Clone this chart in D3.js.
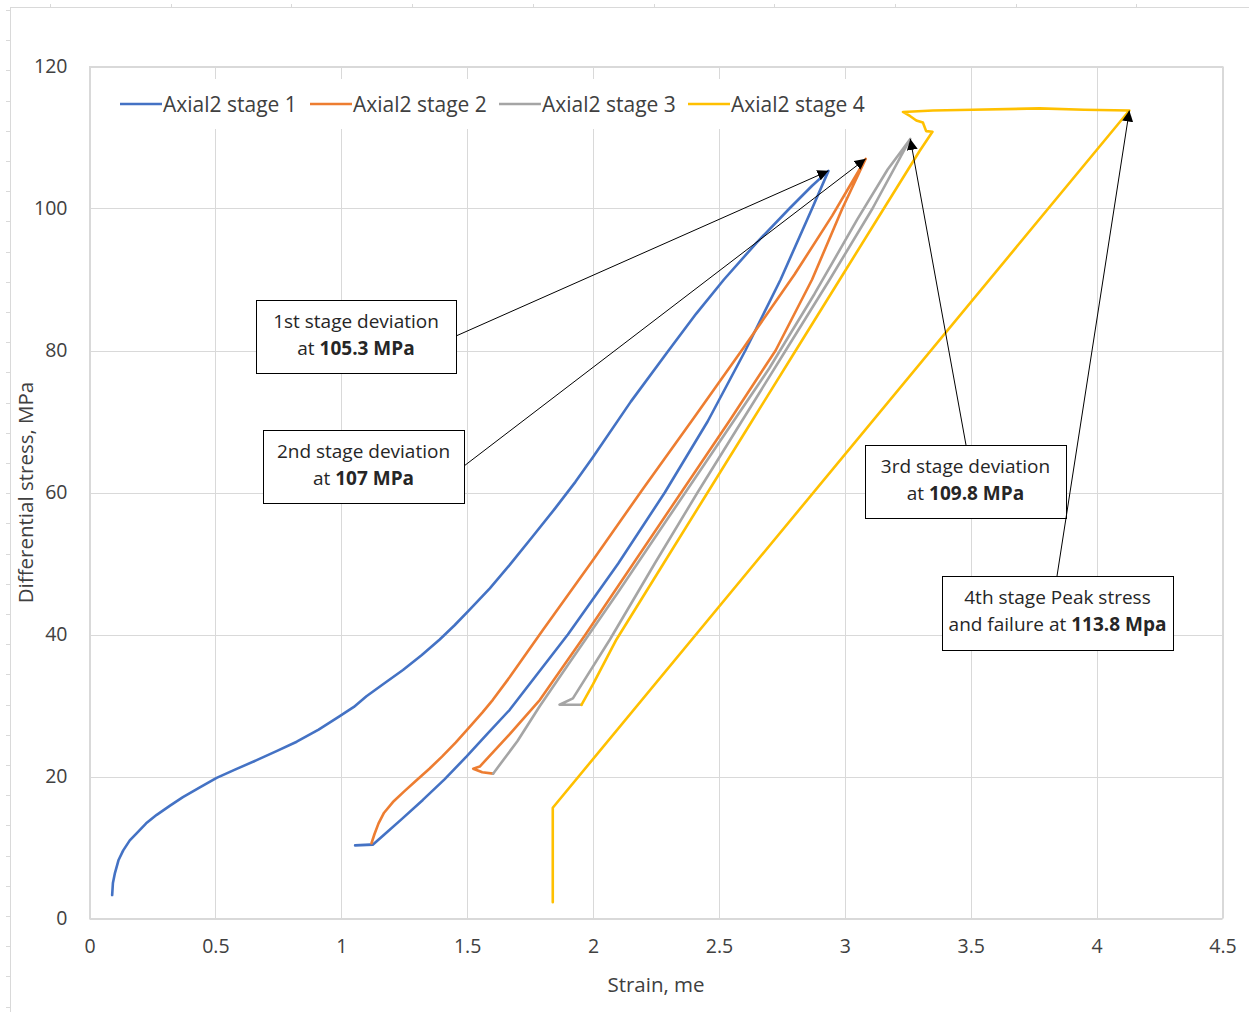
<!DOCTYPE html>
<html>
<head>
<meta charset="utf-8">
<script src="https://cdn.jsdelivr.net/npm/d3@7"></script>
<style>
  html, body { margin: 0; padding: 0; background: #fff; }
  svg { display: block; font-family: "Open Sans", Lato, sans-serif; }
</style>
</head>
<body>
<svg id="chart" width="1249" height="1012"></svg>
<script>
// ---- series: strain (me) and differential stress (MPa), in recorded order ----
const stage1Strain = [0.090,0.093,0.101,0.115,0.134,0.160,0.187,0.225,0.267,0.320,0.371,0.440,0.505,0.580,0.664,0.745,0.823,0.910,0.994,1.050,1.100,1.170,1.245,1.320,1.391,1.450,1.510,1.590,1.669,1.760,1.850,1.930,2.000,2.150,2.300,2.410,2.520,2.650,2.780,2.870,2.935,
  2.870,2.745,2.605,2.455,2.285,2.100,1.900,1.669,1.580,1.497,1.410,1.324,1.240,1.170,1.125,1.055,1.115];
const stage1Stress = [3.3,5.0,6.4,8.2,9.6,11.0,12.0,13.4,14.6,15.9,17.1,18.5,19.8,21.0,22.3,23.6,24.9,26.6,28.5,29.8,31.3,33.1,35.0,37.1,39.3,41.3,43.5,46.5,49.8,53.8,57.8,61.5,65.0,72.8,80.0,85.2,90.0,95.2,100.0,103.2,105.3,
  100.0,90.0,80.0,70.0,60.0,50.0,40.0,29.4,26.0,22.8,19.6,16.7,14.0,11.8,10.4,10.3,10.4];

const stage2Strain = [1.120,1.132,1.148,1.170,1.205,1.250,1.300,1.350,1.400,1.455,1.510,1.560,1.602,1.669,1.800,2.000,2.200,2.400,2.600,2.800,2.950,3.030,3.083,
  2.990,2.870,2.725,2.540,2.350,2.160,1.970,1.789,1.670,1.550,1.524,1.560,1.603];
const stage2Stress = [10.6,11.9,13.4,14.9,16.4,17.9,19.5,21.1,22.8,24.8,27.0,29.0,30.8,34.0,40.6,50.5,60.6,70.5,80.5,90.7,99.0,103.8,107.0,
  100.0,90.0,80.0,70.0,60.0,50.0,40.0,30.8,26.0,21.4,21.1,20.6,20.4];

const stage3Strain = [1.603,1.700,1.788,1.900,2.100,2.300,2.500,2.700,2.880,3.050,3.170,3.260,
  3.110,2.940,2.765,2.590,2.415,2.245,2.067,1.920,1.867,1.954];
const stage3Stress = [20.4,25.0,29.9,35.7,46.0,56.5,67.0,77.5,88.0,98.5,105.5,109.8,
  100.0,90.0,80.0,70.0,60.0,50.0,39.3,31.0,30.1,30.1];

const stage4Strain = [1.954,2.000,2.093,2.280,2.455,2.630,2.805,2.980,3.155,3.297,3.348,3.323,3.310,3.284,3.260,3.231,3.350,3.507,3.773,3.950,4.130,
  1.840,1.840];
const stage4Stress = [30.1,33.0,39.3,50.0,60.0,70.0,80.0,90.0,100.0,108.1,110.8,110.9,112.1,112.4,113.0,113.6,113.8,113.9,114.1,113.9,113.8,
  15.6,2.3];

const seriesNames = ["Axial2 stage 1", "Axial2 stage 2", "Axial2 stage 3", "Axial2 stage 4"];
const seriesColors = ["#4472C4", "#ED7D31", "#A5A5A5", "#FFC000"];

// ---- axis ticks ----
const xTicks = [0, 0.5, 1, 1.5, 2, 2.5, 3, 3.5, 4, 4.5];
const yTicks = [0, 20, 40, 60, 80, 100, 120];

// ---- callouts: the point each arrow marks and its text ----
const calloutStrain = [2.935, 3.083, 3.260, 4.130];
const calloutStress = [105.3, 107, 109.8, 113.8];
const calloutLead = ["1st stage deviation", "2nd stage deviation", "3rd stage deviation", "4th stage Peak stress"];
const calloutPrefix = ["at ", "at ", "at ", "and failure at "];
const calloutUnit = ["MPa", "MPa", "MPa", "Mpa"];

const svg = d3.select("#chart");

const x = d3.scaleLinear().domain([0, 4.5]).range([89.5, 1222.5]);
const y = d3.scaleLinear().domain([0, 120]).range([918.5, 66.5]);

const gridColor = "#d9d9d9";
const textColor = "#404040";
const font = "'Open Sans', Lato, sans-serif";

// sheet frame with its ruler marks
const frame = svg.append("g");
frame.append("line").attr("x1", 10.5).attr("x2", 10.5).attr("y1", 7).attr("y2", 1012).attr("stroke", gridColor);
frame.append("line").attr("x1", 10).attr("x2", 1249).attr("y1", 7.5).attr("y2", 7.5).attr("stroke", gridColor);
d3.range(10, 1012, 30.2).forEach(v => {
  frame.append("line").attr("x1", 6).attr("x2", 10).attr("y1", Math.round(v) + 0.5).attr("y2", Math.round(v) + 0.5).attr("stroke", gridColor);
});
d3.range(50, 1249, 120.7).forEach(v => {
  frame.append("line").attr("x1", Math.round(v) + 0.5).attr("x2", Math.round(v) + 0.5).attr("y1", 4).attr("y2", 7).attr("stroke", gridColor);
});

// gridlines
const grid = svg.append("g");
grid.selectAll(".gx").data(xTicks).join("line")
  .attr("x1", d => Math.round(x(d)) + 0.5).attr("x2", d => Math.round(x(d)) + 0.5)
  .attr("y1", y(120)).attr("y2", y(0))
  .attr("stroke", gridColor).attr("stroke-width", 1);
grid.selectAll(".gy").data(yTicks).join("line")
  .attr("x1", x(0)).attr("x2", x(4.5))
  .attr("y1", d => Math.round(y(d)) + 0.5).attr("y2", d => Math.round(y(d)) + 0.5)
  .attr("stroke", gridColor).attr("stroke-width", 1);

// axes (labels only, Excel style)
const xAxis = svg.append("g").attr("transform", `translate(0,${y(0)})`)
  .call(d3.axisBottom(x).tickValues(xTicks).tickSize(0).tickPadding(21).tickFormat(d3.format("")));
const yAxis = svg.append("g").attr("transform", `translate(${x(0)},0)`)
  .call(d3.axisLeft(y).tickValues(yTicks).tickSize(0).tickPadding(22));
[xAxis, yAxis].forEach(a => {
  a.select(".domain").remove();
  a.selectAll("text").attr("fill", textColor).style("font-size", "19.5px").style("font-family", font);
});

// axis titles
svg.append("text").attr("x", (x(0) + x(4.5)) / 2).attr("y", 992)
  .attr("text-anchor", "middle").attr("fill", textColor).style("font-size", "20.5px")
  .text("Strain, me");
svg.append("text").attr("transform", `translate(33,${(y(0) + y(120)) / 2}) rotate(-90)`)
  .attr("text-anchor", "middle").attr("fill", textColor).style("font-size", "20.5px")
  .text("Differential stress, MPa");

// series lines
const allStrain = [stage1Strain, stage2Strain, stage3Strain, stage4Strain];
const allStress = [stage1Stress, stage2Stress, stage3Stress, stage4Stress];
const line = d3.line().x(d => x(d[0])).y(d => y(d[1]));
const plot = svg.append("g");
allStrain.forEach((s, i) => {
  const pts = s.map((v, j) => [v, allStress[i][j]]);
  plot.append("path").attr("d", line(pts))
    .attr("fill", "none").attr("stroke", seriesColors[i])
    .attr("stroke-width", 2.6).attr("stroke-linejoin", "round").attr("stroke-linecap", "round");
});

// plot area border
svg.append("rect").attr("x", x(0)).attr("y", y(120)).attr("width", x(4.5) - x(0)).attr("height", y(0) - y(120))
  .attr("fill", "none").attr("stroke", gridColor);

// legend
const legend = svg.append("g");
legend.append("rect").attr("x", 112).attr("y", 79).attr("width", 765).attr("height", 50).attr("fill", "#fff");
const legendX = [120, 310, 499, 688];
seriesNames.forEach((n, i) => {
  legend.append("line").attr("x1", legendX[i]).attr("x2", legendX[i] + 42).attr("y1", 104).attr("y2", 104)
    .attr("stroke", seriesColors[i]).attr("stroke-width", 2.6);
  legend.append("text").attr("x", legendX[i] + 43).attr("y", 111.5).attr("fill", textColor)
    .style("font-size", "21px").text(n);
});

// callouts
svg.append("defs").append("marker").attr("id", "arrow")
  .attr("viewBox", "0 0 10 10").attr("refX", 10).attr("refY", 5)
  .attr("markerWidth", 11).attr("markerHeight", 11).attr("markerUnits", "userSpaceOnUse")
  .attr("orient", "auto")
  .append("path").attr("d", "M0,0 L10,5 L0,10 Z").attr("fill", "#000");

const boxes = [
  { x: 256, y: 300, w: 200, h: 73, ax: 456, ay: 336 },
  { x: 263, y: 430, w: 201, h: 73, ax: 464, ay: 466 },
  { x: 865, y: 445, w: 201, h: 73, ax: 966, ay: 445 },
  { x: 942, y: 576, w: 231, h: 74, ax: 1057, ay: 576 }
];
const notes = svg.append("g");
boxes.forEach((b, i) => {
  notes.append("line").attr("x1", b.ax).attr("y1", b.ay)
    .attr("x2", x(calloutStrain[i])).attr("y2", y(calloutStress[i]))
    .attr("stroke", "#000").attr("stroke-width", 1).attr("marker-end", "url(#arrow)");
  notes.append("rect").attr("x", b.x + 0.5).attr("y", b.y + 0.5).attr("width", b.w).attr("height", b.h)
    .attr("fill", "#fff").attr("stroke", "#000").attr("stroke-width", 1);
  const cx = b.x + b.w / 2;
  notes.append("text").attr("x", cx).attr("y", b.y + 27.5).attr("text-anchor", "middle")
    .attr("fill", "#262626").style("font-size", "19px").text(calloutLead[i]);
  const t2 = notes.append("text").attr("x", cx).attr("y", b.y + 54.5).attr("text-anchor", "middle")
    .attr("fill", "#262626").style("font-size", "19px");
  t2.append("tspan").text(calloutPrefix[i]);
  t2.append("tspan").style("font-weight", "bold").text(calloutStress[i] + " " + calloutUnit[i]);
});
</script>
</body>
</html>
